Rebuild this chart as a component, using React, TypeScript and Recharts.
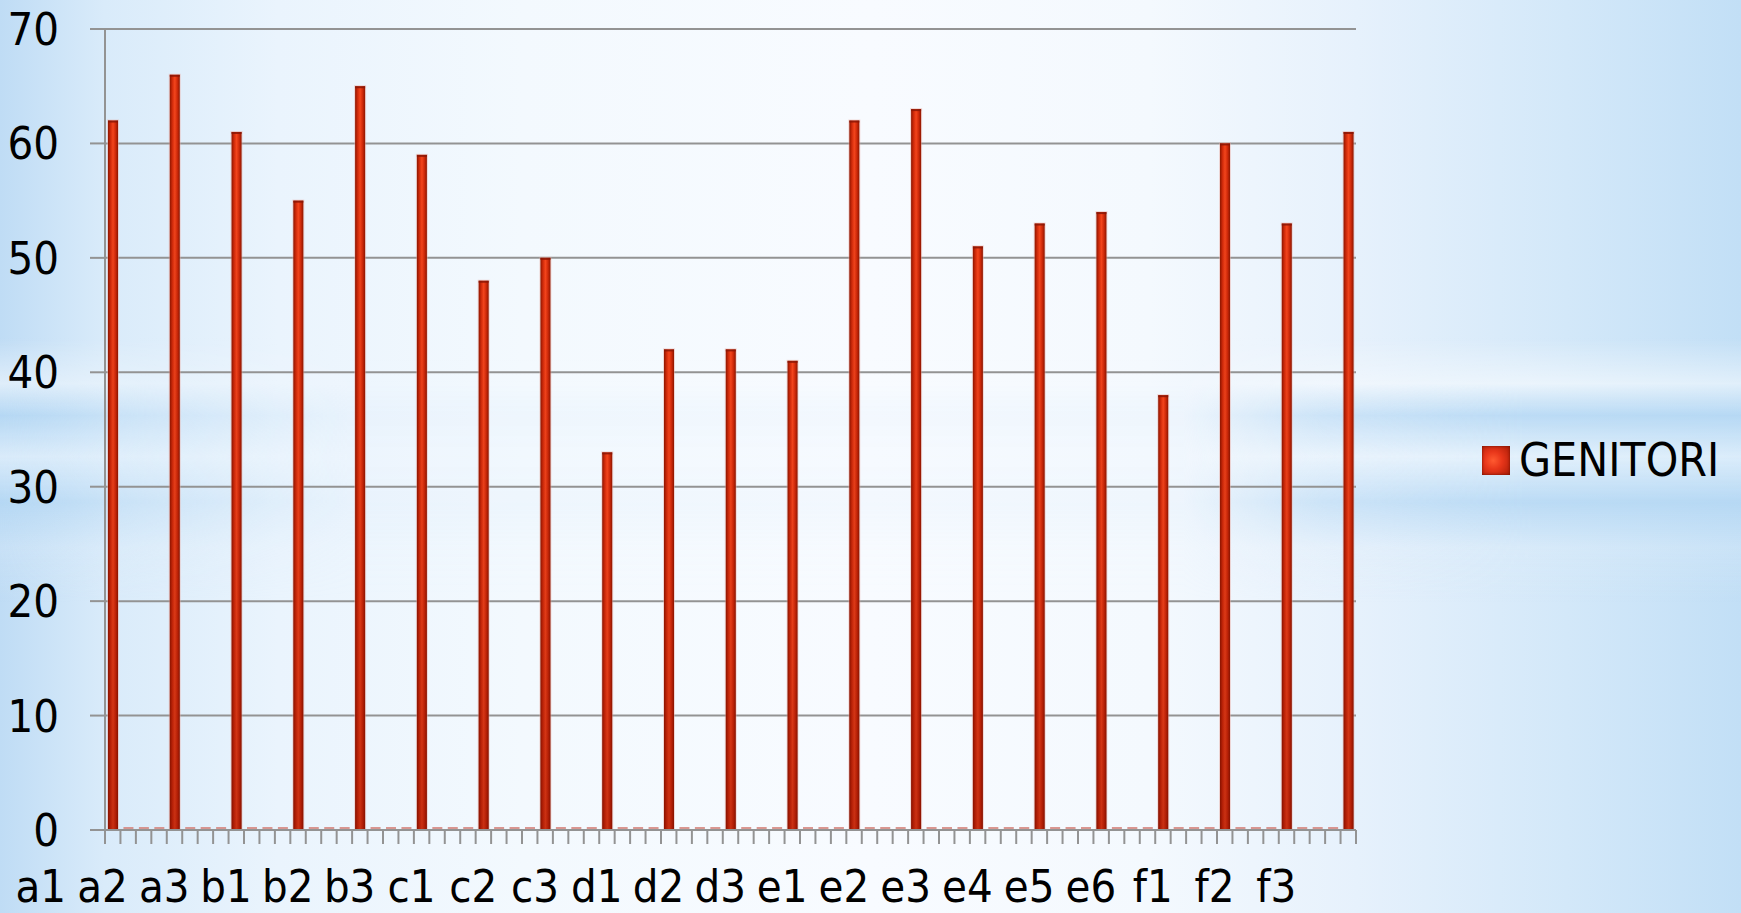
import React from 'react';
import { BarChart, Bar, XAxis, YAxis, CartesianGrid, Legend } from 'recharts';

// ---- data ----
const labels = ['a1', 'a2', 'a3', 'b1', 'b2', 'b3', 'c1', 'c2', 'c3', 'd1', 'd2', 'd3', 'e1', 'e2', 'e3', 'e4', 'e5', 'e6', 'f1', 'f2', 'f3'];
const genitori = [62, 66, 61, 55, 65, 59, 48, 50, 33, 42, 42, 41, 62, 63, 51, 53, 54, 38, 60, 53, 61];
// between two labelled bars the chart holds three empty (zero) categories
const gapValues = [0, 0, 0];
const yTicks = [0, 10, 20, 30, 40, 50, 60, 70];
const seriesName = 'GENITORI';

type Row = { key: string; v: number; label: string };
const rows: Row[] = [];
labels.forEach((lab, k) => {
  rows.push({ key: `c${k}`, v: genitori[k], label: lab });
  if (k < labels.length - 1) {
    gapValues.forEach((g, j) => rows.push({ key: `c${k}_${j}`, v: g, label: '' }));
  }
});

// ---- layout ----
const W = 1741;
const H = 913;
const M = { top: 29, right: 385, bottom: 0, left: 0 };
const Y_W = 105;
const X_H = 83;
const PLOT_W = W - M.left - M.right - Y_W;
const CAT_W = PLOT_W / rows.length;
const LABEL_DX = -72;
const FONT = "'Liberation Sans Narrow', 'DejaVu Sans Condensed', 'Arial Narrow', sans-serif";
const GRID = '#939393';

const XTick = (p: any) => {
  const { x, y, index } = p;
  const row = rows[index];
  const isLast = index === rows.length - 1;
  return (
    <g>
      <line x1={x - CAT_W / 2} x2={x - CAT_W / 2} y1={y} y2={y + 14} stroke={GRID} strokeWidth={2} />
      {isLast && <line x1={x + CAT_W / 2} x2={x + CAT_W / 2} y1={y} y2={y + 14} stroke={GRID} strokeWidth={2} />}
      {row && row.label ? (
        <text x={x + LABEL_DX} y={y + 72} textAnchor="middle" fontSize={45} fontFamily={FONT} fill="#000">
          {row.label}
        </text>
      ) : null}
    </g>
  );
};

const BarShape = (p: any) => {
  const { x, y, width, height } = p;
  if (!height || Math.abs(height) < 0.5) {
    return <rect x={x} y={y - 3} width={width} height={3} fill="#d4857e" opacity={0.85} />;
  }
  return (
    <g>
      <rect x={x - 1} y={y - 1} width={width + 2} height={height + 1} fill="#e8aaa2" opacity={0.45} />
      <rect x={x} y={y} width={width} height={height} fill="url(#barGradH)" />
      <rect x={x} y={y} width={width} height={height} fill="url(#barGradV)" />
      <rect x={x} y={y} width={width} height={2} fill="#8a1606" opacity={0.85} />
    </g>
  );
};

const LegendContent = (props: any) => {
  const item = props.payload && props.payload[0];
  return (
    <div style={{ display: 'flex', alignItems: 'center', height: 0, overflow: 'visible' }}>
      <div
        style={{
          flex: '0 0 auto',
          width: 28,
          height: 29,
          background: 'radial-gradient(circle at 40% 50%, #ff5a30 0%, #e8361a 40%, #a81c06 100%)',
          boxShadow: 'inset 0 0 3px #6e1000',
        }}
      />
      <span style={{ marginLeft: 9, fontSize: 46, fontFamily: FONT, color: '#000', lineHeight: '48px', whiteSpace: 'nowrap' }}>
        {item ? item.value : seriesName}
      </span>
    </div>
  );
};

export default function App() {
  return (
    <div
      style={{
        position: 'absolute',
        left: 0,
        top: 0,
        width: W,
        height: H,
        overflow: 'hidden',
        background:
          'linear-gradient(to right, #bfdcf5 0%, #d9ebfa 6%, #eaf4fd 16%, #f3f9fe 30%, #f8fbff 50%, #f4f9fe 66%, #e6f1fc 78%, #d3e8f9 90%, #c2dff6 100%)',
      }}
    >
      <div
        style={{
          position: 'absolute',
          left: 0,
          top: 0,
          width: W,
          height: H,
          background:
            'linear-gradient(to bottom, rgba(255,255,255,0) 37%, rgba(255,255,255,0.5) 42%, rgba(178,214,243,0.75) 45.5%, rgba(235,245,253,0.6) 50%, rgba(178,214,243,0.75) 55%, rgba(220,236,250,0.3) 60%, rgba(255,255,255,0) 66%)',
          WebkitMaskImage: 'linear-gradient(to right, black 0%, rgba(0,0,0,0.5) 8%, rgba(0,0,0,0.1) 20%, rgba(0,0,0,0.1) 68%, rgba(0,0,0,0.7) 76%, black 88%)',
          maskImage: 'linear-gradient(to right, black 0%, rgba(0,0,0,0.5) 8%, rgba(0,0,0,0.1) 20%, rgba(0,0,0,0.1) 68%, rgba(0,0,0,0.7) 76%, black 88%)',
        }}
      />
      <div style={{ position: 'absolute', left: 0, top: 0 }}>
        <BarChart width={W} height={H} data={rows} margin={M} barSize={10}>
          <defs>
            <linearGradient id="barGradH" x1="0" y1="0" x2="1" y2="0">
              <stop offset="0%" stopColor="#8e1600" />
              <stop offset="25%" stopColor="#d02a0a" />
              <stop offset="50%" stopColor="#f4451c" />
              <stop offset="75%" stopColor="#d02a0a" />
              <stop offset="100%" stopColor="#8e1600" />
            </linearGradient>
            <linearGradient id="barGradV" x1="0" y1="0" x2="0" y2="1">
              <stop offset="0%" stopColor="#7a0a00" stopOpacity={0} />
              <stop offset="55%" stopColor="#7a0a00" stopOpacity={0.12} />
              <stop offset="100%" stopColor="#7a0a00" stopOpacity={0.35} />
            </linearGradient>
          </defs>
          <CartesianGrid vertical={false} stroke={GRID} strokeWidth={2} />
          <XAxis
            dataKey="key"
            type="category"
            interval={0}
            height={X_H}
            tickSize={0}
            tickMargin={0}
            tickLine={false}
            axisLine={{ stroke: GRID, strokeWidth: 2 }}
            tick={<XTick />}
          />
          <YAxis
            width={Y_W}
            domain={[0, 70]}
            ticks={yTicks}
            interval={0}
            tickSize={15}
            tickMargin={31}
            tickLine={{ stroke: GRID, strokeWidth: 2 }}
            axisLine={{ stroke: GRID, strokeWidth: 2 }}
            tick={{ fontSize: 45, fontFamily: FONT, fill: '#000' }}
          />
          <Legend
            content={<LegendContent />}
            wrapperStyle={{ position: 'absolute', left: 1482, top: 460, width: 0, height: 0, overflow: 'visible', bottom: 'auto', right: 'auto' }}
          />
          <Bar dataKey="v" name={seriesName} isAnimationActive={false} shape={<BarShape />} />
        </BarChart>
      </div>
    </div>
  );
}
